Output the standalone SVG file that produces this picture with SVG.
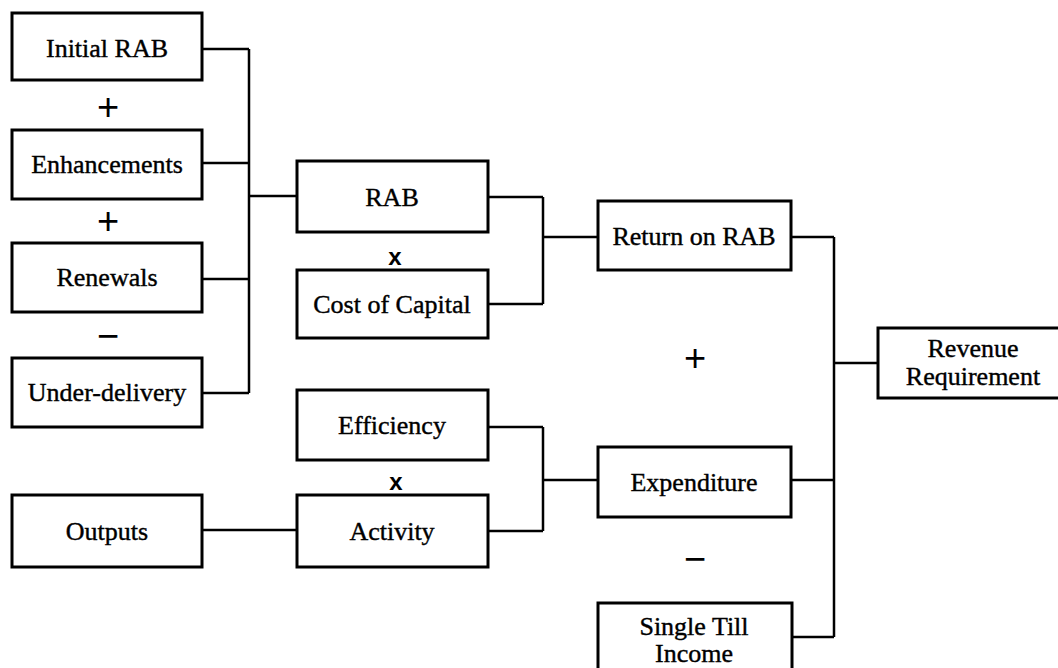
<svg xmlns="http://www.w3.org/2000/svg" width="1058" height="668" viewBox="0 0 1058 668">
<style>
.box{fill:#fff;stroke:#000;stroke-width:3}
.lbl{font-family:"Liberation Serif","Times New Roman",serif;font-size:26px;text-anchor:middle;fill:#000;stroke:#000;stroke-width:0.4}
.op{font-family:"Liberation Sans",Arial,sans-serif;font-size:38px;text-anchor:middle;fill:#000}
.mul{font-family:"Liberation Sans",Arial,sans-serif;font-size:24px;font-weight:bold;text-anchor:middle;fill:#000}
.conn path{fill:none;stroke:#000;stroke-width:2.5}
</style>
<rect width="1058" height="668" fill="#fff"/>
<g class="conn" id="connectors">
<path d="M202 49H249M202 163H249M202 279H249M202 393H249M249 49V393M249 196H297"/>
<path d="M488 197H543M488 304H543M543 197V304M543 237H598"/>
<path d="M489 427H543M489 531H543M543 427V531M543 480H598"/>
<path d="M202 530H297"/>
<path d="M791 237H834M791 480H834M791 637H834M834 237V637M834 363H878"/>
</g>
<g id="initial-rab"><rect class="box" x="12" y="13" width="190" height="67"/><text class="lbl" x="107" y="57">Initial RAB</text></g>
<g id="enhancements"><rect class="box" x="12" y="130" width="190" height="69"/><text class="lbl" x="107" y="173">Enhancements</text></g>
<g id="renewals"><rect class="box" x="12" y="243" width="190" height="69"/><text class="lbl" x="107" y="286">Renewals</text></g>
<g id="under-delivery"><rect class="box" x="12" y="358" width="190" height="69"/><text class="lbl" x="107" y="401">Under-delivery</text></g>
<g id="outputs"><rect class="box" x="12" y="495" width="190" height="72"/><text class="lbl" x="107" y="540">Outputs</text></g>
<g id="rab"><rect class="box" x="297" y="161" width="191" height="71"/><text class="lbl" x="392" y="206">RAB</text></g>
<g id="cost-of-capital"><rect class="box" x="297" y="270" width="191" height="68"/><text class="lbl" x="392" y="313">Cost of Capital</text></g>
<g id="efficiency"><rect class="box" x="297" y="390" width="191" height="70"/><text class="lbl" x="392" y="434">Efficiency</text></g>
<g id="activity"><rect class="box" x="297" y="495" width="191" height="72"/><text class="lbl" x="392" y="540">Activity</text></g>
<g id="return-on-rab"><rect class="box" x="598" y="201" width="193" height="69"/><text class="lbl" x="694" y="245">Return on RAB</text></g>
<g id="expenditure"><rect class="box" x="598" y="447" width="193" height="70"/><text class="lbl" x="694" y="491">Expenditure</text></g>
<g id="single-till-income"><rect class="box" x="598" y="603" width="194" height="80"/><text class="lbl" x="694" y="635">Single Till</text><text class="lbl" x="694" y="662">Income</text></g>
<g id="revenue-requirement"><rect class="box" x="878" y="328" width="190" height="70"/><text class="lbl" x="973" y="357">Revenue</text><text class="lbl" x="973" y="385">Requirement</text></g>
<g id="operators">
<text class="op" x="108" y="120">+</text>
<text class="op" x="108" y="234">+</text>
<text class="op" x="108" y="349">−</text>
<text class="mul" x="395" y="265">x</text>
<text class="mul" x="396" y="490">x</text>
<text class="op" x="695" y="371">+</text>
<text class="op" x="695" y="572">−</text>
</g>
</svg>
